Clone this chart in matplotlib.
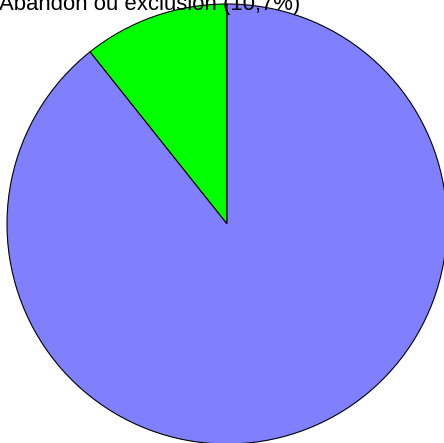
import matplotlib
matplotlib.use("Agg")
import matplotlib.pyplot as plt

categories = ["Abandon ou exclusion", "Autre"]
values = [10.7, 89.3]
colors = ["#00ff00", "#8080ff"]

W, H = 444, 443
fig = plt.figure(figsize=(W / 100, H / 100), dpi=100)
ax = fig.add_axes([0, 0, 1, 1])

cx, cy, r = 227, H - 224, 220
ax.pie(values, colors=colors, startangle=90, counterclock=True,
       center=(cx, cy), radius=r, frame=True,
       wedgeprops=dict(edgecolor="black", linewidth=0.8))
ax.set_xlim(0, W)
ax.set_ylim(0, H)
ax.set_aspect("equal")
ax.axis("off")

label = f"{categories[0]} ({str(values[0]).replace('.', ',')}%)"
ax.text(-1, H - 10, label, fontsize=15.9, family="Liberation Sans",
        ha="left", va="baseline", color="black")

fig.savefig("out.png", dpi=100)
